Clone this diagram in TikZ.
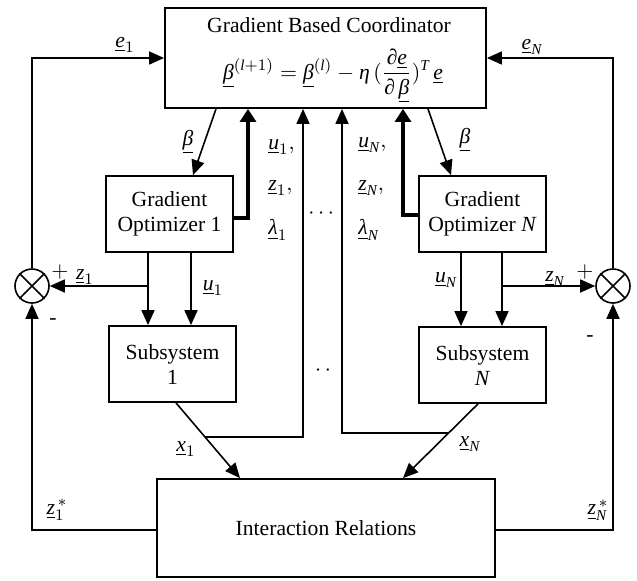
\documentclass[tikz,border=0pt]{standalone}
\usepackage{amsmath}
\usepackage[no-math]{fontspec}
\setmainfont{Liberation Serif}
\usetikzlibrary{arrows.meta,calc}
\newcommand{\mv}[1]{\text{\rmfamily\itshape #1}}
\newcommand{\uv}[1]{\underline{\text{\rmfamily\itshape #1}}}
\begin{document}
\begin{tikzpicture}[x=0.5pt,y=-0.5pt,
  font=\rmfamily\fontsize{10.8}{12.5}\selectfont,
  box/.style={draw,line width=0.9pt,inner sep=0pt,align=center},
  sumnode/.style={draw,circle,line width=0.8pt,minimum size=17pt,inner sep=0pt},
  conn/.style={line width=0.8pt,-{Triangle[length=7.5pt,width=6.5pt]}},
  plain/.style={line width=0.8pt},
  thickconn/.style={line width=2.4pt,line join=miter,-{Triangle[length=6.5pt,width=8pt]}},
  lbl/.style={inner sep=0pt}]
\useasboundingbox (0,0) rectangle (637,580);
% boxes
\node[box,minimum width=160.5pt,minimum height=50pt] (coord) at (325.5,58) {};
\node[lbl] (coordt) at (329,25) {Gradient Based Coordinator};
\node[lbl] (coorde) at (333,76) {$\displaystyle \uv{β}^{(\mv{l}+1)}=\uv{β}^{(\mv{l})}-\mv{η}\,(\frac{\mv{∂}\uv{e}}{\mv{∂}\,\uv{β}})^{\mv{T}}\,\uv{e}$};
\node[box,minimum width=63.5pt,minimum height=38pt] (go1) at (169.5,214) {Gradient\\Optimizer 1};
\node[box,minimum width=63.5pt,minimum height=38pt] (goN) at (482.5,214) {Gradient\\Optimizer \textit{N}};
\node[box,minimum width=63.5pt,minimum height=38pt] (sub1) at (172.5,364) {Subsystem\\1};
\node[box,minimum width=63.5pt,minimum height=38pt] (subN) at (482.5,365) {Subsystem\\\textit{N}};
\node[box,minimum width=169pt,minimum height=49pt] (inter) at (326,528) {Interaction Relations};
\node[sumnode] (c1) at (32,286) {};
\node[sumnode] (cN) at (613,286) {};
\draw[plain] (c1.45) -- (c1.225) (c1.135) -- (c1.315);
\draw[plain] (cN.45) -- (cN.225) (cN.135) -- (cN.315);
% error feedback
\draw[conn] (c1.north) |- (coord.west);
\draw[conn] (cN.north) |- (coord.east);
% beta
\draw[conn] (coord.south -| 216,0) -- (go1.north -| 193,0);
\draw[conn] (coord.south -| 428,0) -- (goN.north -| 451,0);
% thick
\draw[thickconn] (go1.east |- 0,218) -| (coord.south -| 248,0);
\draw[thickconn] (goN.west |- 0,215) -| (coord.south -| 403,0);
% x arrows
\coordinate (x1s) at (sub1.south -| 176,0);
\coordinate (x1e) at (inter.north -| 240,0);
\coordinate (xNs) at (subN.south -| 478,0);
\coordinate (xNe) at (inter.north -| 403,0);
\draw[conn] (x1s) -- (x1e);
\draw[conn] (xNs) -- (xNe);
\coordinate (j1) at ($(x1s)!0.455!(x1e)$);
\coordinate (jN) at ($(xNs)!0.395!(xNe)$);
\draw[conn] (j1) -| (coord.south -| 303,0);
\draw[conn] (jN) -| (coord.south -| 342,0);
% optimizer to subsystem
\draw[conn] (go1.south -| 148,0) -- (sub1.north -| 148,0);
\draw[conn] (go1.south -| 191,0) -- (sub1.north -| 191,0);
\draw[conn] (goN.south -| 461,0) -- (subN.north -| 461,0);
\draw[conn] (goN.south -| 502,0) -- (subN.north -| 502,0);
\coordinate (z1b) at (148,286);
\coordinate (zNb) at (502,286);
\draw[conn] (z1b) -- (c1.east);
\draw[conn] (zNb) -- (cN.west);
% z* feedback
\draw[conn] (inter.west |- 0,530) -| (c1.south);
\draw[conn] (inter.east |- 0,530) -| (cN.south);
% labels
\node[lbl] (le1) at (125,45) {$\uv{e}_1$};
\node[lbl] (leN) at (532,47) {$\uv{e}_{\mv{N}}$};
\node[lbl] (lb1) at (188,142) {$\uv{β}$};
\node[lbl] (lbN) at (465,140) {$\uv{β}$};
\node[lbl,anchor=west] (lu1) at (268,147) {$\uv{u}_1,$};
\node[lbl,anchor=west] (lz1) at (268,188) {$\uv{z}_1,$};
\node[lbl,anchor=west] (ll1) at (268,230) {$\uv{λ}_1$};
\node[lbl,anchor=west] (luN) at (358,145) {$\uv{u}_{\mv{N}},$};
\node[lbl,anchor=west] (lzN) at (358,188) {$\uv{z}_{\mv{N}},$};
\node[lbl,anchor=west] (llN) at (358,230) {$\uv{λ}_{\mv{N}}$};
\node[lbl] (dots1) at (323,214) {$\cdots$};
\node[lbl] (dots2) at (323,371) {$\cdot\,\cdot$};
\node[lbl] (pl1) at (60,272) {$+$};
\node[lbl] (lzz1) at (85,277) {$\uv{z}_1$};
\node[lbl] (luu1) at (213,288) {$\uv{u}_1$};
\node[lbl] (mi1) at (53,322) {-};
\node[lbl] (luuN) at (446,280) {$\uv{u}_{\mv{N}}$};
\node[lbl] (lzzN) at (555,279) {$\uv{z}_{\mv{N}}$};
\node[lbl] (plN) at (585,272) {$+$};
\node[lbl] (miN) at (590,339) {-};
\node[lbl] (lx1) at (186,449) {$\uv{x}_1$};
\node[lbl] (lxN) at (470,444) {$\uv{x}_{\mv{N}}$};
\node[lbl] (lzs1) at (57,510) {$\uv{z}_1^{\,*}$};
\node[lbl] (lzsN) at (598,510) {$\uv{z}_{\mv{N}}^{\,*}$};
\end{tikzpicture}
\end{document}
